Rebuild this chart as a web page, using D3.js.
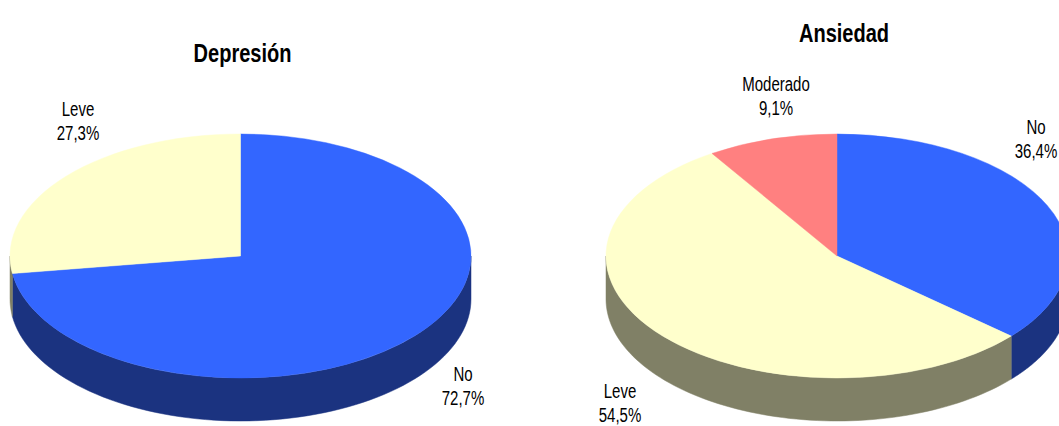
<!DOCTYPE html>
<html>
<head>
<meta charset="utf-8">
<script src="https://cdn.jsdelivr.net/npm/d3@7"></script>
<style>
html,body{margin:0;padding:0;background:#fff;overflow:hidden;}
svg{display:block;}
</style>
</head>
<body>
<svg id="chart" width="1059" height="426"></svg>
<script>
// ---- Data ----
const depresionTitle = "Depresión";
const depresionCategories = ["No", "Leve"];
const depresionValues = [72.7, 27.3];

const ansiedadTitle = "Ansiedad";
const ansiedadCategories = ["No", "Leve", "Moderado"];
const ansiedadValues = [36.4, 54.5, 9.1];

// ---- Styles ----
const topColors = {No: "#3366FF", Leve: "#FFFFCC", Moderado: "#FF8080"};
const sideColors = {No: "#1B3380", Leve: "#808066", Moderado: "#804040"};

const svg = d3.select("#chart");
const fmt = v => d3.format(".1f")(v).replace(".", ",") + "%";
const SX = 0.77;

function drawPie(cfg) {
  const {cx, cy, rx, ry, depth, cats, vals, title, titlePos, labelPos} = cfg;
  const data = cats.map((c, i) => ({cat: c, value: vals[i]}));
  const pie = d3.pie().sort(null).value(d => d.value).startAngle(0).endAngle(2 * Math.PI);
  const arcs = pie(data);
  const g = svg.append("g");

  const px = a => cx + rx * Math.sin(a);
  const py = a => cy - ry * Math.cos(a);
  const line = d3.line();

  // side walls (front half: angles between PI/2 and 3PI/2)
  arcs.forEach(a => {
    const s = Math.max(a.startAngle, Math.PI / 2);
    const e = Math.min(a.endAngle, 3 * Math.PI / 2);
    if (e <= s) return;
    const n = 80;
    const angs = d3.range(n + 1).map(i => s + (e - s) * i / n);
    const pts = angs.map(t => [px(t), py(t)])
      .concat(angs.slice().reverse().map(t => [px(t), py(t) + depth]));
    g.append("path")
      .attr("d", line(pts) + "Z")
      .attr("fill", sideColors[a.data.cat])
      .attr("stroke", sideColors[a.data.cat])
      .attr("stroke-width", 0.5);
  });

  // top faces
  const arc = d3.arc().innerRadius(0).outerRadius(rx);
  const top = g.append("g").attr("transform", `translate(${cx},${cy}) scale(1,${ry / rx})`);
  arcs.forEach(a => {
    top.append("path")
      .attr("d", arc(a))
      .attr("fill", topColors[a.data.cat])
      .attr("stroke", topColors[a.data.cat])
      .attr("stroke-width", 0.6);
  });

  // title
  svg.append("text")
    .attr("transform", `translate(${titlePos[0]},${titlePos[1]}) scale(${SX},1)`)
    .attr("text-anchor", "middle")
    .attr("font-family", "Liberation Sans, Arial, sans-serif")
    .attr("font-weight", "bold")
    .attr("font-size", 26)
    .attr("fill", "#000")
    .text(title);

  // labels
  arcs.forEach(a => {
    const p = labelPos[a.data.cat];
    const t = svg.append("text")
      .attr("transform", `translate(${p[0]},${p[1]}) scale(${SX},1)`)
      .attr("text-anchor", "middle")
      .attr("font-family", "Liberation Sans, Arial, sans-serif")
      .attr("font-size", 19.5)
      .attr("fill", "#000");
    t.append("tspan").attr("x", 0).attr("y", 0).text(a.data.cat);
    t.append("tspan").attr("x", 0).attr("y", 24).text(fmt(a.data.value));
  });
}

drawPie({
  cx: 240.5, cy: 256, rx: 230.5, ry: 122, depth: 43,
  cats: depresionCategories, vals: depresionValues, title: depresionTitle,
  titlePos: [242.5, 62],
  labelPos: {No: [463, 381], Leve: [78, 116]}
});

drawPie({
  cx: 837, cy: 256, rx: 231, ry: 122, depth: 43,
  cats: ansiedadCategories, vals: ansiedadValues, title: ansiedadTitle,
  titlePos: [844, 42],
  labelPos: {No: [1036, 134], Leve: [620, 398], Moderado: [776, 91]}
});
</script>
</body>
</html>
